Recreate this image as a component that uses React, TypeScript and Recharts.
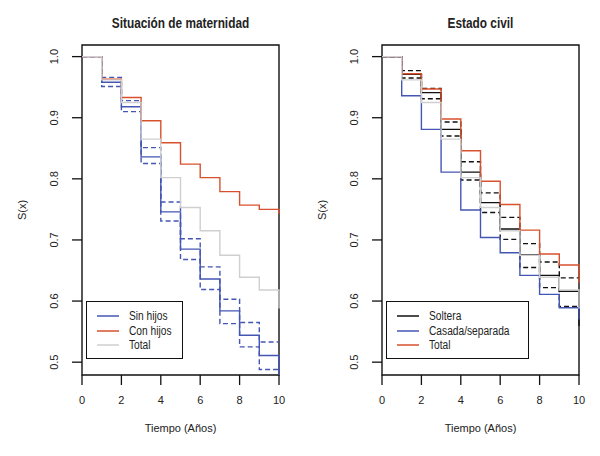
import React from 'react';
import {
  LineChart,
  Line,
  XAxis,
  YAxis,
  ReferenceArea,
  Legend
} from 'recharts';

// Years since start (value holds on [t, t+1))
const years = [0, 1, 2, 3, 4, 5, 6, 7, 8, 9, 10];

// Left panel: Situación de maternidad
const sinHijos = [1, 0.958, 0.918, 0.836, 0.746, 0.685, 0.636, 0.584, 0.544, 0.511, 0.47];
const sinHijosUp = [1, 0.966, 0.928, 0.851, 0.762, 0.702, 0.656, 0.603, 0.565, 0.533, 0.533];
const sinHijosLo = [1, 0.951, 0.91, 0.825, 0.731, 0.668, 0.619, 0.563, 0.525, 0.488, 0.488];
const conHijos = [1, 0.963, 0.933, 0.895, 0.859, 0.824, 0.802, 0.779, 0.757, 0.75, 0.743];
const totalGeneral = [1, 0.962, 0.925, 0.865, 0.802, 0.753, 0.715, 0.675, 0.639, 0.618, 0.588];

// Right panel: Estado civil
const soltera = [1, 0.971, 0.941, 0.881, 0.811, 0.761, 0.718, 0.676, 0.642, 0.616, 0.559];
const solteraUp = [1, 0.977, 0.948, 0.893, 0.828, 0.777, 0.737, 0.694, 0.664, 0.638, 0.638];
const solteraLo = [1, 0.965, 0.931, 0.87, 0.798, 0.745, 0.701, 0.655, 0.622, 0.591, 0.591];
const casada = [1, 0.936, 0.881, 0.811, 0.749, 0.704, 0.679, 0.642, 0.611, 0.589, 0.57];
const totalCivil = [1, 0.972, 0.947, 0.898, 0.846, 0.796, 0.758, 0.716, 0.677, 0.659, 0.63];

const xTicks = [0, 2, 4, 6, 8, 10];
const yTicks = [0.5, 0.6, 0.7, 0.8, 0.9, 1.0];
const Y_DOMAIN: [number, number] = [0.479, 1.019];

const BLUE = '#4456b4';
const RED = '#d9502c';
const GRAY = '#cfcfcf';
const BLACK = '#111111';
const FONT = "'Liberation Sans', Arial, sans-serif";

const leftData = years.map((t, i) => ({
  t,
  sinUp: sinHijosUp[i],
  sinLo: sinHijosLo[i],
  sin: sinHijos[i],
  con: conHijos[i],
  total: totalGeneral[i]
}));

const rightData = years.map((t, i) => ({
  t,
  solUp: solteraUp[i],
  solLo: solteraLo[i],
  sol: soltera[i],
  cas: casada[i],
  tot: totalCivil[i],
  gen: totalGeneral[i]
}));

type SeriesDef = { key: string; color: string; dashed?: boolean };
type LegendItem = { label: string; color: string };

const leftSeries: SeriesDef[] = [
  { key: 'sinUp', color: BLUE, dashed: true },
  { key: 'sinLo', color: BLUE, dashed: true },
  { key: 'sin', color: BLUE },
  { key: 'con', color: RED },
  { key: 'total', color: GRAY }
];

const rightSeries: SeriesDef[] = [
  { key: 'solUp', color: BLACK, dashed: true },
  { key: 'solLo', color: BLACK, dashed: true },
  { key: 'sol', color: BLACK },
  { key: 'cas', color: BLUE },
  { key: 'tot', color: RED },
  { key: 'gen', color: GRAY }
];

const leftLegend: LegendItem[] = [
  { label: 'Sin hijos', color: BLUE },
  { label: 'Con hijos', color: RED },
  { label: 'Total', color: GRAY }
];

const rightLegend: LegendItem[] = [
  { label: 'Soltera', color: BLACK },
  { label: 'Casada/separada', color: BLUE },
  { label: 'Total', color: RED }
];

const YTick = (props: any) => {
  const { x, y, payload } = props;
  const cx = x - 10;
  return (
    <text
      x={cx}
      y={y}
      transform={`rotate(-90, ${cx}, ${y})`}
      textAnchor="middle"
      fontSize={11}
      fontFamily={FONT}
      fill="#222"
    >
      {payload.value.toFixed(1)}
    </text>
  );
};

const makeLegend = (items: LegendItem[], boxWidth: number) => () => (
  <div
    style={{
      width: boxWidth,
      height: 58,
      border: '1.3px solid #111',
      boxSizing: 'border-box',
      background: '#fff',
      paddingTop: 7,
      fontFamily: FONT,
      fontSize: 12,
      color: '#222'
    }}
  >
    {items.map(item => (
      <div key={item.label} style={{ display: 'flex', alignItems: 'center', height: 14.5 }}>
        <svg width={40} height={14} style={{ flex: 'none' }}>
          <line x1={10} x2={32} y1={7} y2={7} stroke={item.color} strokeWidth={1.5} />
        </svg>
        <span
          style={{
            display: 'inline-block',
            marginLeft: 2,
            whiteSpace: 'nowrap',
            transform: 'scaleX(0.85)',
            transformOrigin: 'left center'
          }}
        >
          {item.label}
        </span>
      </div>
    ))}
  </div>
);

interface PanelProps {
  title: string;
  data: any[];
  series: SeriesDef[];
  legend: LegendItem[];
  legendWidth: number;
}

const SurvivalPanel: React.FC<PanelProps> = ({ title, data, series, legend, legendWidth }) => (
  <div style={{ position: 'relative', width: 300, height: 456 }}>
    <div
      style={{
        position: 'absolute',
        left: 82,
        width: 197,
        top: 15,
        textAlign: 'center',
        fontFamily: FONT,
        fontWeight: 'bold',
        fontSize: 14,
        color: '#222',
        transform: 'scaleX(0.845)',
        whiteSpace: 'nowrap'
      }}
    >
      {title}
    </div>
    <LineChart width={300} height={456} data={data} margin={{ top: 45, right: 21, left: 0, bottom: 0 }}>
      <XAxis
        dataKey="t"
        type="number"
        domain={[0, 10]}
        ticks={xTicks}
        height={81}
        axisLine={false}
        tickSize={10}
        tickMargin={11}
        tickLine={{ stroke: '#111', strokeWidth: 1.3 }}
        tick={{ fontSize: 11, fontFamily: FONT, fill: '#222' }}
        label={{
          value: 'Tiempo (Años)',
          position: 'insideBottom',
          offset: 24,
          style: { fontSize: 11, fontFamily: FONT, fill: '#222' }
        }}
      />
      <YAxis
        type="number"
        domain={Y_DOMAIN}
        allowDataOverflow
        ticks={yTicks}
        width={82}
        axisLine={false}
        tickSize={10}
        tickMargin={4}
        tickLine={{ stroke: '#111', strokeWidth: 1.3 }}
        tick={<YTick />}
        label={{
          value: 'S(x)',
          angle: -90,
          position: 'insideLeft',
          offset: 22,
          style: { fontSize: 11, fontFamily: FONT, fill: '#222', textAnchor: 'middle' }
        }}
      />
      {series.map(s => (
        <Line
          key={s.key}
          type="stepAfter"
          dataKey={s.key}
          stroke={s.color}
          strokeWidth={1.4}
          strokeDasharray={s.dashed ? '5 3' : undefined}
          dot={false}
          activeDot={false}
          isAnimationActive={false}
        />
      ))}
      <ReferenceArea
        x1={0}
        x2={10}
        y1={Y_DOMAIN[0]}
        y2={Y_DOMAIN[1]}
        fill="none"
        fillOpacity={0}
        stroke="#111"
        strokeWidth={1.4}
        ifOverflow="visible"
      />
      <Legend
        layout="vertical"
        align="center"
        verticalAlign="middle"
        content={makeLegend(legend, legendWidth)}
        wrapperStyle={{ position: 'absolute', left: 86, top: 301, width: legendWidth }}
      />
    </LineChart>
  </div>
);

export default function App() {
  return (
    <div
      style={{
        position: 'absolute',
        left: 0,
        top: 0,
        width: 600,
        height: 456,
        background: '#fff',
        display: 'flex'
      }}
    >
      <SurvivalPanel
        title="Situación de maternidad"
        data={leftData}
        series={leftSeries}
        legend={leftLegend}
        legendWidth={97}
      />
      <SurvivalPanel
        title="Estado civil"
        data={rightData}
        series={rightSeries}
        legend={rightLegend}
        legendWidth={143}
      />
    </div>
  );
}
